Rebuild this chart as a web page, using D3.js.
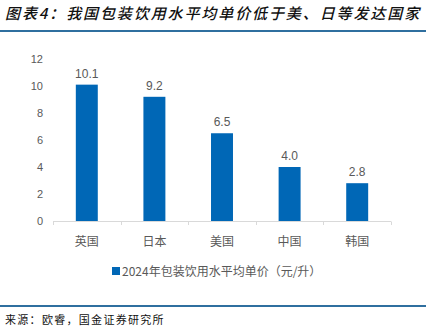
<!DOCTYPE html>
<html><head><meta charset="utf-8">
<script src="https://cdn.jsdelivr.net/npm/d3@7"></script>
<style>body{margin:0;background:#fff;}svg{display:block;}</style>
</head><body><svg id="c" width="441" height="333"></svg>
<script>
const categories = ["英国","日本","美国","中国","韩国"];
const values = [10.1, 9.2, 6.5, 4.0, 2.8];
const labels = ["10.1","9.2","6.5","4.0","2.8"];
const yTicks = [0,2,4,6,8,10,12];
const seriesName = "2024年包装饮用水平均单价（元/升）";
const title = "图表4：我国包装饮用水平均单价低于美、日等发达国家";
const source = "来源：欧睿，国金证券研究所";

const svg = d3.select("#c");
const font = "'Noto Sans CJK SC', sans-serif";
const gray = "#595959";
const barColor = "#0067b6";

svg.append("text").attr("x",5).attr("y",19).text(title)
  .attr("font-family",font).attr("font-size",15).attr("font-style","italic").attr("font-weight",500)
  .attr("letter-spacing",1.9).attr("fill","#111");
svg.append("line").attr("x1",0).attr("x2",426).attr("y1",31).attr("y2",31).attr("stroke","#2f6f9f").attr("stroke-width",2);

const x = d3.scaleBand().domain(categories).range([53,391]).paddingInner(0.675).paddingOuter(0.3375);
const y = d3.scaleLinear().domain([0,12]).range([221,59]);

const gy = svg.append("g");
yTicks.forEach(t=>{
  gy.append("text").attr("x",43).attr("y",y(t)+4).attr("text-anchor","end").text(t)
    .attr("font-family","'Liberation Sans', Arial, sans-serif").attr("font-size",11).attr("fill",gray);
});

svg.append("line").attr("x1",53).attr("x2",391).attr("y1",221.5).attr("y2",221.5).attr("stroke","#d9d9d9").attr("stroke-width",1);
const step = x.step();
for(let i=0;i<=categories.length;i++){
  const xx = Math.round(53+i*step)+0.5;
  svg.append("line").attr("x1",xx).attr("x2",xx).attr("y1",221.5).attr("y2",225).attr("stroke","#d9d9d9");
}

svg.selectAll("rect.bar").data(values).enter().append("rect").attr("class","bar")
  .attr("x",(d,i)=>x(categories[i])).attr("width",x.bandwidth())
  .attr("y",d=>y(d)).attr("height",d=>y(0)-y(d)).attr("fill",barColor);

svg.selectAll("text.lbl").data(values).enter().append("text").attr("class","lbl")
  .attr("x",(d,i)=>x(categories[i])+x.bandwidth()/2).attr("y",d=>y(d)-7)
  .attr("text-anchor","middle").text((d,i)=>labels[i])
  .attr("font-family","'Liberation Sans', Arial, sans-serif").attr("font-size",12).attr("fill",gray);

svg.selectAll("text.cat").data(categories).enter().append("text").attr("class","cat")
  .attr("x",d=>x(d)+x.bandwidth()/2).attr("y",246).attr("text-anchor","middle").text(d=>d)
  .attr("font-family",font).attr("font-size",12).attr("fill",gray);

svg.append("rect").attr("x",112).attr("y",267).attr("width",8).attr("height",8).attr("fill",barColor);
svg.append("text").attr("x",122).attr("y",276).text(seriesName)
  .attr("font-family",font).attr("font-size",12).attr("fill",gray);

svg.append("line").attr("x1",0).attr("x2",426).attr("y1",306).attr("y2",306).attr("stroke","#2f6f9f").attr("stroke-width",2);
svg.append("text").attr("x",5).attr("y",324).text(source)
  .attr("font-family",font).attr("font-size",11).attr("letter-spacing",1.3).attr("fill","#111");
</script></body></html>
